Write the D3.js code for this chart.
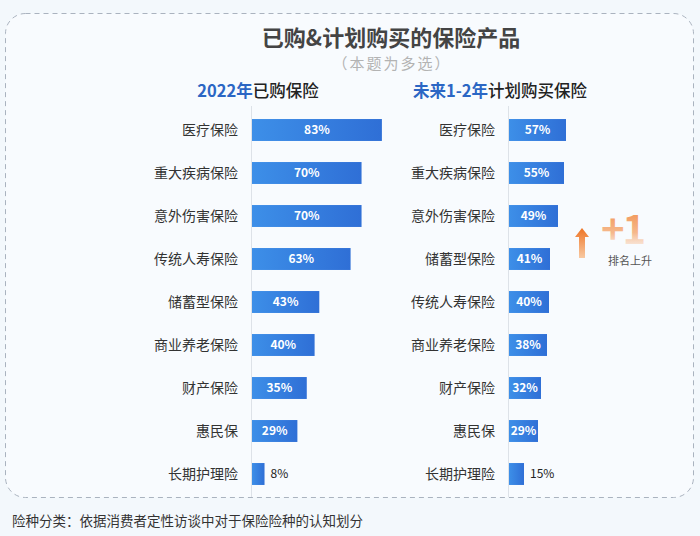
<!DOCTYPE html>
<html>
<head>
<meta charset="utf-8">
<script src="https://cdn.jsdelivr.net/npm/d3@7"></script>
<style>
  html, body { margin: 0; padding: 0; background: #f3f8fc; }
  svg { display: block; font-family: "Noto Sans CJK SC", "Noto Sans", sans-serif; }
</style>
</head>
<body>
<div id="chart"></div>
<script>
// purchased in 2022
var boughtCats = ['医疗保险', '重大疾病保险', '意外伤害保险', '传统人寿保险', '储蓄型保险',
	'商业养老保险', '财产保险', '惠民保', '长期护理险'];
var boughtVals = [83, 70, 70, 63, 43, 40, 35, 29, 8];

// planned in next 1-2 years
var planCats = ['医疗保险', '重大疾病保险', '意外伤害保险', '储蓄型保险', '传统人寿保险',
	'商业养老保险', '财产保险', '惠民保', '长期护理险'];
var planVals = [57, 55, 49, 41, 40, 38, 32, 29, 15];

var W = 700, H = 536;

var svg = d3.select('#chart').append('svg')
	.attr('width', W)
	.attr('height', H);

var defs = svg.append('defs');

var barGrad = defs.append('linearGradient').attr('id', 'barGrad')
	.attr('x1', 0).attr('x2', 1).attr('y1', 0).attr('y2', 0);
barGrad.append('stop').attr('offset', '0%').attr('stop-color', '#3d8fe8');
barGrad.append('stop').attr('offset', '100%').attr('stop-color', '#2f6fd6');

var arrowGrad = defs.append('linearGradient').attr('id', 'arrowGrad')
	.attr('x1', 0).attr('x2', 0).attr('y1', 0).attr('y2', 1);
arrowGrad.append('stop').attr('offset', '0%').attr('stop-color', '#ee7424');
arrowGrad.append('stop').attr('offset', '100%').attr('stop-color', '#f8c9a2');

var plusGrad = defs.append('linearGradient').attr('id', 'plusGrad')
	.attr('x1', 0).attr('x2', 0).attr('y1', 0).attr('y2', 1);
plusGrad.append('stop').attr('offset', '0%').attr('stop-color', '#ef7c30');
plusGrad.append('stop').attr('offset', '60%').attr('stop-color', '#f5a870').attr('stop-opacity', 0.8);
plusGrad.append('stop').attr('offset', '100%').attr('stop-color', '#fbe0cc').attr('stop-opacity', 0.1);

// background panel with dashed frame
svg.append('rect')
	.attr('x', 5.5).attr('y', 13.5)
	.attr('width', 688).attr('height', 484)
	.attr('rx', 20)
	.attr('fill', '#f8fbfe')
	.attr('stroke', '#aab3bf')
	.attr('stroke-width', 1)
	.attr('stroke-dasharray', '5,4');

// titles
svg.append('text')
	.attr('x', 391).attr('y', 46)
	.attr('text-anchor', 'middle')
	.style('font-size', '22px')
	.style('font-weight', 'bold')
	.attr('fill', '#444')
	.text('已购&计划购买的保险产品');

svg.append('text')
	.attr('x', 392).attr('y', 69)
	.attr('text-anchor', 'middle')
	.style('font-size', '15px')
	.style('letter-spacing', '2px')
	.attr('fill', '#b3b3b3')
	.text('（本题为多选）');

var h1 = svg.append('text')
	.attr('x', 258).attr('y', 97)
	.attr('text-anchor', 'middle')
	.style('font-size', '16.5px');
h1.append('tspan').attr('fill', '#2b66c4').style('font-weight', 'bold').text('2022年');
h1.append('tspan').attr('fill', '#222').style('font-weight', 500).text('已购保险');

var h2 = svg.append('text')
	.attr('x', 500).attr('y', 97)
	.attr('text-anchor', 'middle')
	.style('font-size', '16.5px');
h2.append('tspan').attr('fill', '#2b66c4').style('font-weight', 'bold').text('未来1-2年');
h2.append('tspan').attr('fill', '#222').style('font-weight', 500).text('计划购买保险');

//------------------------------------------------------------------------------
function drawPanel(cats, vals, x0, pxPerPct) {
	var y = d3.scaleBand()
		.domain(cats)
		.range([108.5, 495.5])
		.paddingInner(0.49)
		.paddingOuter(0.245);

	var x = d3.scaleLinear()
		.domain([0, 100])
		.range([x0, x0 + 100 * pxPerPct]);

	var g = svg.append('g');

	// axis line
	g.append('line')
		.attr('x1', x0 - 0.5).attr('x2', x0 - 0.5)
		.attr('y1', 106).attr('y2', 497)
		.attr('stroke', '#dde2e8')
		.attr('stroke-width', 1);

	var rows = g.selectAll('.row')
		.data(cats)
		.enter()
		.append('g').attr('class', 'row');

	rows.append('text')
		.attr('x', x0 - 14)
		.attr('y', function(d) { return y(d) + y.bandwidth() / 2; })
		.attr('dy', '0.36em')
		.attr('text-anchor', 'end')
		.style('font-size', '14px')
		.attr('fill', '#333')
		.text(function(d) { return d; });

	rows.append('rect')
		.attr('x', x0)
		.attr('y', function(d) { return y(d); })
		.attr('width', function(d, i) { return x(vals[i]) - x0; })
		.attr('height', y.bandwidth())
		.attr('fill', 'url(#barGrad)');

	var inside = function(i) { return (x(vals[i]) - x0) > 22; };

	rows.append('text')
		.attr('x', function(d, i) {
			return inside(i) ? (x0 + x(vals[i])) / 2 : x(vals[i]) + 6;
		})
		.attr('y', function(d) { return y(d) + y.bandwidth() / 2; })
		.attr('dy', '0.36em')
		.attr('text-anchor', function(d, i) { return inside(i) ? 'middle' : 'start'; })
		.style('font-size', '12px')
		.style('font-weight', function(d, i) { return inside(i) ? 'bold' : 'normal'; })
		.attr('fill', function(d, i) { return inside(i) ? '#fff' : '#222'; })
		.text(function(d, i) { return vals[i] + '%'; });
}

drawPanel(boughtCats, boughtVals, 252, 1.565);
drawPanel(planCats, planVals, 509, 1.0);

// rank up marker
svg.append('path')
	.attr('d', 'M582,228 L589,237 L585,237 L585,258 L579,258 L579,237 L575,237 Z')
	.attr('fill', 'url(#arrowGrad)');

svg.append('text')
	.attr('x', 601).attr('y', 244)
	.style('font-size', '40px')
	.style('font-weight', 'bold')
	.attr('fill', 'url(#plusGrad)')
	.style('letter-spacing', '-2px')
	.text('+1');

svg.append('text')
	.attr('x', 630).attr('y', 265)
	.attr('text-anchor', 'middle')
	.style('font-size', '11px')
	.attr('fill', '#555')
	.text('排名上升');

// footnote
svg.append('text')
	.attr('x', 12).attr('y', 526)
	.style('font-size', '13.5px')
	.attr('fill', '#333')
	.text('险种分类：依据消费者定性访谈中对于保险险种的认知划分');
</script>
</body>
</html>
